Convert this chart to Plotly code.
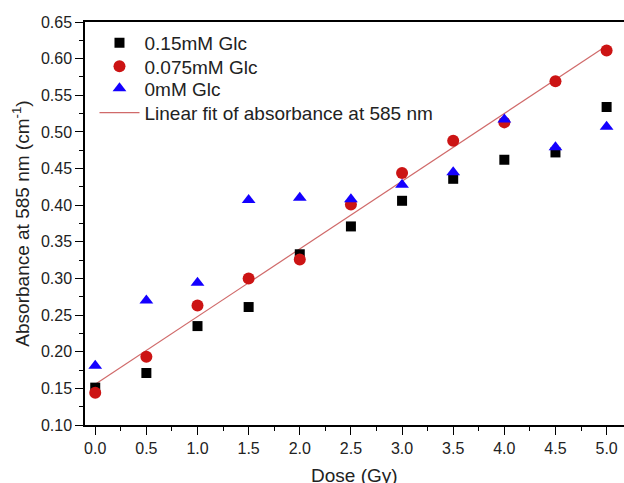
import numpy as np
import plotly.graph_objects as go

dose = [0.0, 0.5, 1.0, 1.5, 2.0, 2.5, 3.0, 3.5, 4.0, 4.5, 5.0]
glc_015 = [0.151, 0.171, 0.235, 0.261, 0.333, 0.371, 0.406, 0.436, 0.462, 0.472, 0.534]
glc_0075 = [0.144, 0.193, 0.263, 0.300, 0.326, 0.401, 0.444, 0.488, 0.513, 0.569, 0.611]
glc_0 = [0.181, 0.270, 0.294, 0.407, 0.410, 0.408, 0.428, 0.445, 0.517, 0.479, 0.507]

# Linear fit of the 0.075 mM series
slope, intercept = np.polyfit(dose, glc_0075, 1)
fit_x = [dose[0], dose[-1]]
fit_y = [intercept + slope * v for v in fit_x]

font_family = "Liberation Sans, Arial, sans-serif"
txt = "#222222"

fig = go.Figure()
fig.add_trace(go.Scatter(x=fit_x, y=fit_y, mode="lines",
                         name="Linear fit of absorbance at 585 nm",
                         legend="legend4",
                         line=dict(color="#d06a6a", width=1.2)))
fig.add_trace(go.Scatter(x=dose, y=glc_015, mode="markers", name="0.15mM Glc",
                         legend="legend",
                         marker=dict(symbol="square", size=10, color="black")))
fig.add_trace(go.Scatter(x=dose, y=glc_0075, mode="markers", name="0.075mM Glc",
                         legend="legend2",
                         marker=dict(symbol="circle", size=12, color="#cc1414")))
fig.add_trace(go.Scatter(x=dose, y=glc_0, mode="markers", name="0mM Glc",
                         legend="legend3",
                         marker=dict(symbol="triangle-up", size=12, color="#1400ff")))

def leg(y):
    return dict(x=0.0176, y=y, xanchor="left", yanchor="middle",
                bgcolor="rgba(0,0,0,0)", font=dict(size=19, color=txt),
                itemwidth=40, tracegroupgap=0)

fig.update_layout(
    width=624, height=483,
    margin=dict(l=85, r=0, t=22, b=58),
    paper_bgcolor="white", plot_bgcolor="white",
    font=dict(family=font_family, color=txt, size=16),
    showlegend=True,
    legend=leg(0.948), legend2=leg(0.890), legend3=leg(0.8355), legend4=leg(0.775),
    xaxis=dict(range=[-0.1, 5.17], tickvals=dose, tickformat=".1f",
               automargin=False,
               showline=True, linecolor="black", linewidth=1.5, mirror=True,
               ticks="outside", ticklen=8, tickwidth=1.2, tickcolor="black",
               minor=dict(dtick=0.25, tick0=0.0, ticks="outside", ticklen=4,
                          tickcolor="black", tickwidth=1.2),
               showgrid=False, zeroline=False,
               tickfont=dict(size=16, color=txt)),
    yaxis=dict(range=[0.10, 0.65], dtick=0.05, tick0=0.10, tickformat=".2f",
               automargin=False,
               showline=True, linecolor="black", linewidth=1.5, mirror=False,
               ticks="outside", ticklen=8, tickwidth=1.2, tickcolor="black",
               minor=dict(dtick=0.025, tick0=0.10, ticks="outside", ticklen=4,
                          tickcolor="black", tickwidth=1.2),
               showgrid=False, zeroline=False,
               tickfont=dict(size=16, color=txt),
               title=dict(text="Absorbance at 585 nm (cm<sup>-1</sup>)",
                          font=dict(size=19, color=txt), standoff=6)),
    annotations=[dict(text="Dose (Gy)", xref="paper", yref="paper",
                      x=0.5, y=-0.125, xanchor="center", yanchor="middle",
                      showarrow=False, font=dict(size=19, color=txt))],
)

fig.write_html("out.html", config={"displayModeBar": False},
               post_script="document.body.style.margin='0';document.body.style.overflow='hidden';")
